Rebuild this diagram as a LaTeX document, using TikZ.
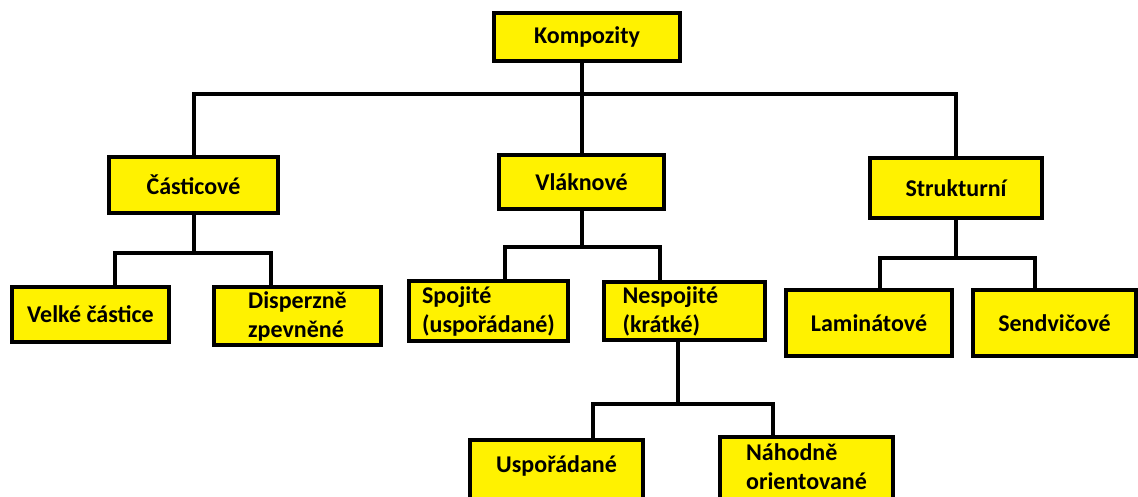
\documentclass[tikz,border=0pt]{standalone}
\usepackage{fontspec}
\setmainfont{Carlito}
\definecolor{boxyellow}{RGB}{255,242,0}
\begin{document}
\begin{tikzpicture}[x=0.75pt, y=-0.75pt,
  box/.style={draw=black, line width=3pt, fill=boxyellow, inner sep=0pt,
    font=\bfseries\fontsize{18}{21.75}\selectfont, align=center},
  twoline/.style={align=left},
  conn/.style={draw=black, line width=3pt}]
\clip (0,0) rectangle (1138,496);

% root
\node[box, minimum width=139.5pt, minimum height=36pt] (komp) at (587,37) {Kompozity};

% second level
\node[box, minimum width=126.75pt, minimum height=42pt] (cast) at (193.5,185) {Částicové};
\node[box, minimum width=123.75pt, minimum height=40.5pt] (vlak) at (581.5,182) {Vláknové};
\node[box, minimum width=129pt, minimum height=45pt] (strk) at (956,188) {Strukturní};

% third level
\node[box, minimum width=117.75pt, minimum height=41.25pt] (velke) at (90.5,314.5) {Velké částice};
\node[box, twoline, minimum width=125.25pt, minimum height=43.5pt] (disp) at (297.5,316) {Disperzně\\zpevněné};
\node[box, twoline, minimum width=119.25pt, minimum height=45pt] (spoj) at (488.5,311) {Spojité\\(uspořádané)};
\node[box, twoline, text width=120.75pt, minimum height=43.5pt] (nesp) at (684.5,311) {\hspace*{14pt}Nespojité\\\hspace*{14pt}(krátké)};
\node[box, minimum width=124.5pt, minimum height=49.5pt] (lam) at (869,323) {Laminátové};
\node[box, minimum width=122.25pt, minimum height=49.5pt] (send) at (1054.5,323) {Sendvičové};

% fourth level (boxes run past the lower edge)
\node[box, minimum width=129.75pt, minimum height=48pt, text depth=12.5pt] (usp) at (556.5,472) {Uspořádané};
\node[box, twoline, minimum width=129.75pt, minimum height=49.5pt, text depth=5pt] (nah) at (806.5,470) {Náhodně\\orientované};

% junction bars
\coordinate (top) at (582,94);
\coordinate (cl) at (115,253);  \coordinate (cr) at (271,253);
\coordinate (vl) at (505,247);  \coordinate (vr) at (660,247);
\coordinate (nl) at (593,404);  \coordinate (nr) at (773,404);
\coordinate (sl) at (880,258);  \coordinate (sr) at (1035,258);

% root to second level
\draw[conn] (cast.north) |- (top) -| (strk.north);
\draw[conn] (komp.south -| vlak.north) -- (vlak.north);

% Částicové branch
\draw[conn] (cast.south) -- (cast.south |- cl);
\draw[conn] (velke.north -| cl) -- (cl) -- (cr) -- (disp.north -| cr);

% Vláknové branch
\draw[conn] (vlak.south) -- (vlak.south |- vl);
\draw[conn] (spoj.north -| vl) -- (vl) -- (vr) -- (nesp.north -| vr);

% Nespojité branch
\draw[conn] (nesp.south -| 678,0) -- (678,404);
\draw[conn] (usp.north -| nl) -- (nl) -- (nr) -- (nah.north -| nr);

% Strukturní branch
\draw[conn] (strk.south) -- (strk.south |- sl);
\draw[conn] (lam.north -| sl) -- (sl) -- (sr) -- (send.north -| sr);
\end{tikzpicture}
\end{document}
